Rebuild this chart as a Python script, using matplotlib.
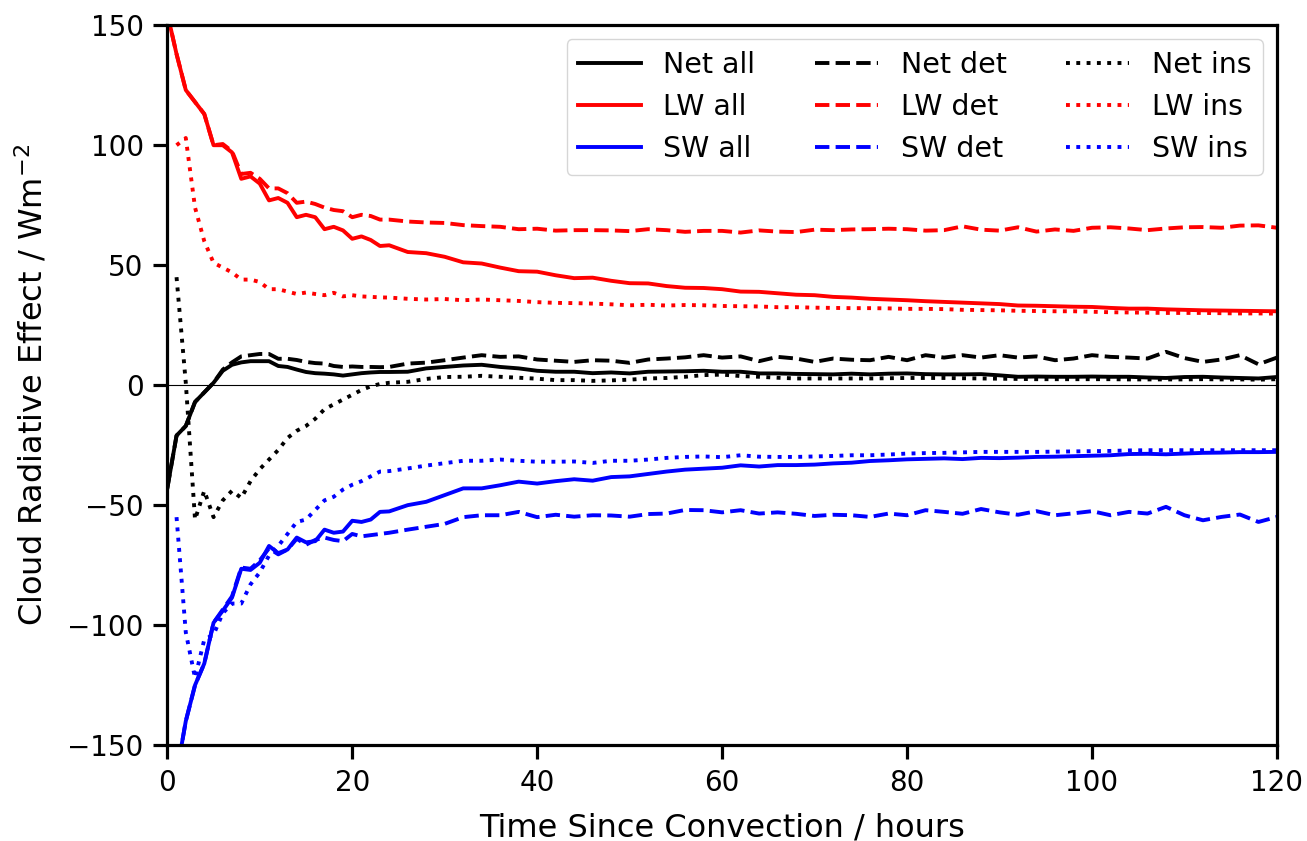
import numpy as np
import matplotlib
matplotlib.use("Agg")
import matplotlib.pyplot as plt

# time axis: hourly to 24 h, then every 2 h
hours = list(range(0, 25)) + list(range(26, 121, 2))

nan = np.nan

lw_all = [155, 138, 123, 118, 113, 100, 100, 97, 86, 87, 84, 77, 78, 76, 70, 71, 70, 65, 66, 64.5,
          61, 62, 60.5, 58, 58.3,
          55.5, 55, 53.5, 51.2, 50.7, 49, 47.5, 47.3, 45.8, 44.6,
          44.8, 43.5, 42.5, 42.4, 41.3, 40.6, 40.5, 40, 39, 38.9,
          38.3, 37.7, 37.5, 36.8, 36.5, 36, 35.7, 35.4, 35, 34.7,
          34.4, 34.1, 33.8, 33.2, 33.1, 32.9, 32.7, 32.6, 32.2, 31.9,
          31.9, 31.6, 31.4, 31.2, 31.1, 31, 30.9, 30.8]
lw_det = [155, 138, 123, 118, 113, 100, 100.5, 97.5, 88, 88.5, 86, 82, 82, 80, 76, 76.5, 75.5, 74, 73, 72.5,
          70, 71, 70.5, 69, 69,
          68.2, 67.8, 67.6, 66.7, 66.3, 66, 65, 65.2, 64.4, 64.6,
          64.6, 64.5, 64.2, 65, 64.6, 63.9, 64.3, 64.3, 63.6, 64.5,
          64, 63.8, 64.8, 64.6, 64.9, 65, 65.2, 65, 64.4, 64.6,
          66.2, 64.8, 64.4, 65.8, 64, 64.9, 64.3, 65.6, 65.8, 65.3,
          64.6, 65.3, 65.8, 65.9, 65.6, 66.5, 66.6, 65.6]
lw_ins = [nan, 100, 103, 74, 60, 51, 49, 47, 44, 44, 43, 40, 40, 39, 38, 38.6, 38, 37.5, 38.5, 37,
          37.5, 37, 36.8, 36.6, 36.5,
          36, 35.7, 35.9, 35.4, 35.7, 35.4, 35.1, 34.6, 34.3, 34.2,
          34, 33.7, 33.3, 33.5, 33.2, 33.4, 33.3, 33, 32.9, 32.8,
          32.5, 32.5, 32.3, 32.2, 32.1, 32.1, 32, 31.8, 31.8, 31.7,
          31.4, 31.3, 31.2, 31, 30.9, 30.8, 30.8, 30.6, 30.4, 30.3,
          30.2, 30.1, 30.1, 30.1, 30, 29.9, 29.9, 29.8]

net_all = [-43, -21, -17, -7, -3, 1, 6, 8.5, 9.5, 10, 10, 10, 8, 7.6, 6.5, 5.5, 5, 4.8, 4.5, 4,
           4.5, 5, 5.3, 5.5, 5.5,
           5.6, 7, 7.6, 8.2, 8.5, 7.6, 7, 6, 5.6, 5.6,
           5, 5.3, 4.9, 5.6, 5.7, 5.8, 6, 5.6, 5.6, 4.9,
           4.9, 4.7, 4.6, 4.5, 4.8, 4.5, 4.8, 4.9, 4.6, 4.5,
           4.5, 4.6, 4.1, 3.5, 3.6, 3.5, 3.5, 3.6, 3.5, 3.5,
           3.2, 3, 3.4, 3.5, 3.2, 3, 2.8, 3.4]
net_det = [-43, -21, -17, -7, -3, 1, 6.5, 9.5, 12, 12.5, 13, 13, 11, 11, 10.5, 9.7, 9.2, 9, 8, 7.6,
           7.8, 7.6, 7.6, 7.5, 7.6,
           9, 9.4, 10.4, 11.5, 12.5, 11.8, 12, 10.7, 10.2, 9.7,
           10.4, 10.2, 9.3, 10.7, 11.1, 11.6, 12.5, 11.5, 12, 10,
           11.8, 11.1, 9.7, 11.1, 10.6, 10.4, 11.8, 10.4, 12.5, 11.5,
           12.5, 11.5, 12.5, 11.5, 12, 10.4, 11.1, 12.5, 11.8, 11.5,
           11.1, 13.9, 11.3, 9.7, 10.7, 12.5, 8.7, 11.5]
net_ins = [nan, 45, 1, -56, -44, -55, -48, -44, -47, -40, -35, -31, -27, -22, -19, -17, -14, -10, -8, -6,
           -4, -2, -0.5, 0.5, 1,
           1.4, 2.6, 3.4, 3.5, 3.9, 3.5, 3.1, 2.7, 2.1, 2.1,
           1.8, 2, 2.3, 2.8, 3, 3.5, 4.2, 4.4, 3.8, 3.5,
           3.1, 2.8, 2.8, 2.8, 2.8, 2.8, 2.9, 3, 3, 3,
           2.9, 2.8, 2.7, 2.6, 2.5, 2.5, 2.5, 2.5, 2.5, 2.4,
           2.4, 2.4, 2.4, 2.5, 2.4, 2.4, 2.3, 2.5]

sw_all = [-198, -162, -140, -125, -116, -99, -94, -88.5, -76.5, -77, -74, -67, -70, -68.5, -63.5, -65.5,
          -65, -60.2, -61.5, -61, -56.5, -57, -56, -52.8, -52.6,
          -50, -48.6, -45.8, -43, -43, -41.7, -40.2, -41, -40, -39.2,
          -39.8, -38.3, -38, -37, -36, -35.2, -34.8, -34.4, -33.4, -33.9,
          -33.3, -33.3, -33.1, -32.6, -32.3, -31.6, -31.3, -30.9, -30.7, -30.5,
          -30.8, -30.3, -30.4, -30.2, -29.9, -29.8, -29.6, -29.4, -29.2, -28.7,
          -28.6, -28.8, -28.5, -28.2, -28.1, -27.9, -27.9, -27.8]
sw_det = [-198, -162, -140, -125, -116, -99, -93.5, -88, -76, -76.5, -73, -68, -70.5, -68.5, -64, -66.5,
          -64.5, -63.5, -64.5, -65, -62, -63, -62.5, -62, -61.5,
          -60.2, -59, -57.8, -55, -54.2, -54.2, -52.8, -55, -54, -54.8,
          -54.2, -54.3, -54.8, -53.7, -53.5, -52, -52.1, -53, -52.1, -53.5,
          -53, -53.6, -54.5, -54, -54.2, -54.9, -53.5, -54.2, -52.1, -52.8,
          -53.6, -51.6, -53, -54, -52.5, -54.2, -53.4, -52.5, -54.2, -52.8,
          -53.5, -50.7, -54.2, -56.3, -54.9, -53.9, -57, -54.9]
sw_ins = [nan, -55, -103, -122, -106, -104, -95, -91, -91, -83, -78, -71, -67, -62, -57, -56, -52, -48,
          -46.5, -43.5, -41.5, -40, -38, -36, -35.8,
          -34.7, -33.5, -32.5, -31.5, -31.5, -31, -31.5, -31.9, -31.9, -31.8,
          -32.4, -31.5, -31.5, -31, -30.3, -29.9, -29.7, -30, -29.2, -29.8,
          -29.9, -29.9, -29.7, -29.5, -29.2, -29.2, -28.9, -28.5, -28.3, -28.2,
          -28, -27.8, -27.8, -27.8, -27.8, -27.7, -27.6, -27.5, -27.4, -27.2,
          -27.1, -27.1, -27.1, -27.1, -27.1, -27.1, -27.1, -27.1]


def main():
    fig = plt.figure(figsize=(13.07, 8.41), dpi=100)
    ax = fig.add_axes([0.128, 0.114, 0.849, 0.856])

    lw = 2.8
    series = [
        (net_all, 'k', '-', 'Net all'), (lw_all, 'r', '-', 'LW all'), (sw_all, 'b', '-', 'SW all'),
        (net_det, 'k', '--', 'Net det'), (lw_det, 'r', '--', 'LW det'), (sw_det, 'b', '--', 'SW det'),
        (net_ins, 'k', ':', 'Net ins'), (lw_ins, 'r', ':', 'LW ins'), (sw_ins, 'b', ':', 'SW ins'),
    ]
    for vals, col, ls, lab in series:
        ax.plot(hours, vals, color=col, linestyle=ls, linewidth=lw, label=lab)

    ax.axhline(0, color='k', linewidth=0.8)

    ax.set_xlim(0, 120)
    ax.set_ylim(-150, 150)
    ax.set_xticks([0, 20, 40, 60, 80, 100, 120])
    ax.set_yticks([-150, -100, -50, 0, 50, 100, 150])
    ax.tick_params(labelsize=20, width=2.3, length=10, pad=7, direction='out')
    for sp in ax.spines.values():
        sp.set_linewidth(2.3)

    ax.set_xlabel('Time Since Convection / hours', fontsize=23, labelpad=11)
    ax.set_ylabel('Cloud Radiative Effect / Wm$^{-2}$', fontsize=23, labelpad=13)

    ax.legend(ncol=3, loc='upper right', fontsize=20.5, borderaxespad=0.5,
              handlelength=2.2, columnspacing=2.1)

    fig.savefig('out.png', dpi=100)


if __name__ == "__main__":
    main()
